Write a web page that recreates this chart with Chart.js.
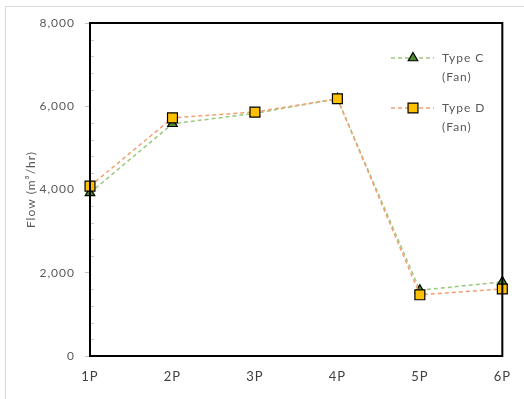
<!DOCTYPE html>
<html>
<head>
<meta charset="utf-8">
<script src="https://cdn.jsdelivr.net/npm/chart.js@4"></script>
<style>
  html, body { margin: 0; padding: 0; background: #fff; }
  #wrap { position: relative; width: 524px; height: 399px; }
  #frame { position: absolute; left: 5px; top: 6px; right: 0; bottom: 0;
           border-left: 1px solid #d9d9d9; border-top: 1px solid #d9d9d9; pointer-events: none; }
  canvas { position: absolute; left: 0; top: 0; }
</style>
</head>
<body>
<div id="wrap">
  <canvas id="c" width="524" height="399"></canvas>
  <div id="frame"></div>
</div>
<script>
// Measured flow per operating point
const categories = ['1P', '2P', '3P', '4P', '5P', '6P'];
const typeC = [3920, 5580, 5830, 6180, 1580, 1780];
const typeD = [4080, 5720, 5860, 6180, 1470, 1610];
const seriesNames = [['Type C', '(Fan)'], ['Type D', '(Fan)']];
const yMax = 8000;
const yStep = 400;
const yLabelStep = 2000;

const FONT = 'Lato, "Open Sans", sans-serif';
const greenLine = '#9cc77e';
const greenFill = '#4e8a2c';
const orangeLine = '#f4a171';
const orangeFill = '#ffc000';

// Slightly open letter spacing for all canvas text
const spacing = {
  id: 'spacing',
  beforeLayout(chart) { chart.ctx.letterSpacing = '1px'; },
  beforeDraw(chart) { chart.ctx.letterSpacing = '1px'; }
};

// Frame around the plot area, minor inner tick marks and the legend
const decorations = {
  id: 'decorations',
  afterDatasetsDraw(chart) {
    const { ctx, chartArea: a } = chart;
    const y = chart.scales.y;
    ctx.save();
    // minor ticks on the inside of the value axis
    ctx.strokeStyle = '#c8c8c8';
    ctx.lineWidth = 1;
    y.ticks.forEach(t => {
      if (t.value % yLabelStep !== 0) {
        const py = Math.round(y.getPixelForValue(t.value)) + 0.5;
        ctx.beginPath();
        ctx.moveTo(a.left, py);
        ctx.lineTo(a.left + 4, py);
        ctx.stroke();
      }
    });
    ctx.strokeStyle = '#000';
    ctx.lineWidth = 2;
    ctx.strokeRect(a.left, a.top, a.right - a.left, a.bottom - a.top);

    // legend
    const items = [
      { y: 58, line: greenLine, fill: greenFill, style: 'triangle', name: seriesNames[0] },
      { y: 108, line: orangeLine, fill: orangeFill, style: 'rect', name: seriesNames[1] }
    ];
    items.forEach(it => {
      ctx.strokeStyle = it.line;
      ctx.lineWidth = 1.5;
      ctx.setLineDash([4, 3]);
      ctx.beginPath();
      ctx.moveTo(391, it.y);
      ctx.lineTo(434, it.y);
      ctx.stroke();
      ctx.setLineDash([]);
      ctx.fillStyle = it.fill;
      ctx.strokeStyle = '#000';
      ctx.lineWidth = 1.2;
      Chart.helpers.drawPoint(ctx, {
        pointStyle: it.style,
        radius: it.style === 'rect' ? 7 : 5.5,
        borderWidth: 1.2
      }, 413, it.y);
      ctx.fillStyle = '#595959';
      ctx.font = '12px ' + FONT;
      ctx.letterSpacing = '1px';
      ctx.textAlign = 'left';
      ctx.textBaseline = 'middle';
      ctx.fillText(it.name[0], 442, it.y);
      ctx.fillText(it.name[1], 442, it.y + 19);
    });
    ctx.restore();
  }
};

new Chart(document.getElementById('c'), {
  type: 'line',
  data: {
    labels: categories,
    datasets: [
      {
        label: seriesNames[0].join(' '),
        data: typeC,
        order: 1,
        borderColor: greenLine,
        borderWidth: 1.5,
        borderDash: [4, 3],
        pointStyle: 'triangle',
        pointRadius: 5.5,
        pointHoverRadius: 5.5,
        pointBackgroundColor: greenFill,
        pointBorderColor: '#000',
        pointBorderWidth: 1.2,
        tension: 0
      },
      {
        label: seriesNames[1].join(' '),
        data: typeD,
        order: 0,
        borderColor: orangeLine,
        borderWidth: 1.5,
        borderDash: [4, 3],
        pointStyle: 'rect',
        pointRadius: 7,
        pointHoverRadius: 7,
        pointBackgroundColor: orangeFill,
        pointBorderColor: '#000',
        pointBorderWidth: 1.2,
        tension: 0
      }
    ]
  },
  options: {
    responsive: false,
    animation: false,
    events: [],
    layout: { padding: { top: 23, right: 16, left: 0, bottom: 0 } },
    plugins: { legend: { display: false }, tooltip: { enabled: false } },
    scales: {
      x: {
        offset: false,
        grid: { display: false, drawTicks: false },
        border: { display: false },
        ticks: { color: '#404040', font: { family: FONT, size: 13 }, padding: 13, maxRotation: 0 },
        afterFit(s) { s.height = 43; }
      },
      y: {
        min: 0,
        max: yMax,
        grid: {
          drawOnChartArea: false,
          tickLength: 5,
          color: c => (c.tick && c.tick.value % yLabelStep === 0) ? '#c0c0c0' : 'rgba(0,0,0,0)'
        },
        border: { display: false },
        ticks: {
          stepSize: yStep,
          autoSkip: false,
          color: '#595959',
          padding: 10,
          font: { family: FONT, size: 12 },
          callback: v => (v % yLabelStep === 0) ? v.toLocaleString('en-US') : ''
        },
        title: {
          display: true,
          text: 'Flow (m³/hr)',
          color: '#595959',
          font: { family: FONT, size: 12 },
          padding: { top: 24, bottom: 0 }
        },
        afterFit(s) { s.width = 90; }
      }
    }
  },
  plugins: [spacing, decorations]
});
</script>
</body>
</html>
